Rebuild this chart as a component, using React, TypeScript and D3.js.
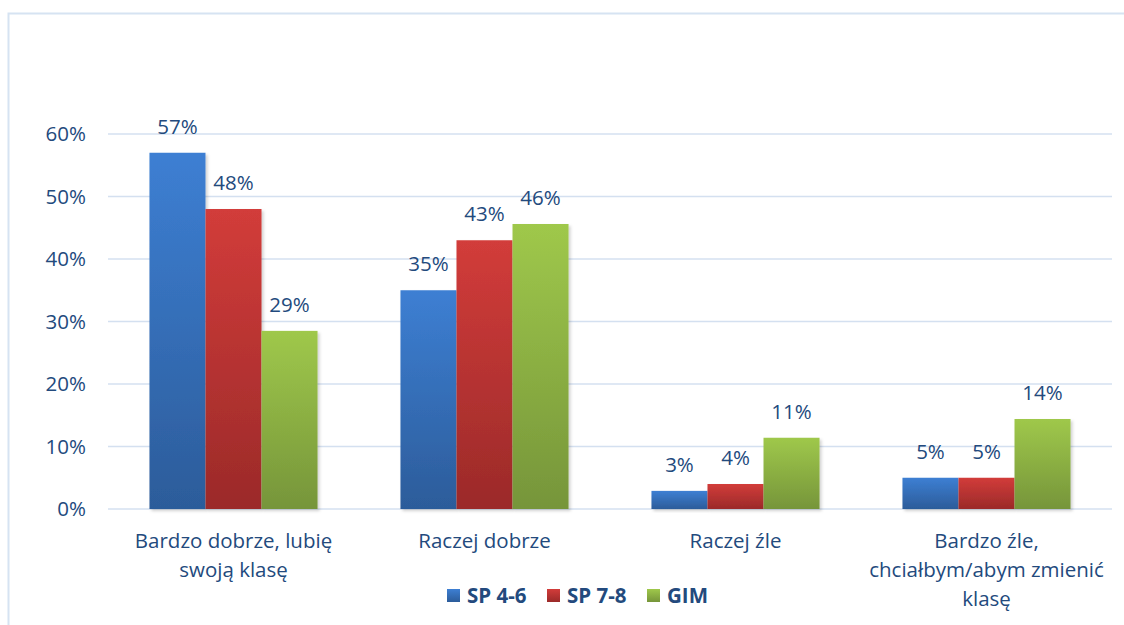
import React from "react";
import * as d3 from "d3";

const categories = [
  ["Bardzo dobrze, lubię", "swoją klasę"],
  ["Raczej dobrze"],
  ["Raczej źle"],
  ["Bardzo źle,", "chciałbym/abym zmienić", "klasę"],
];
const seriesNames = ["SP 4-6", "SP 7-8", "GIM"];
const sp46 = [57, 35, 2.9, 5];
const sp78 = [48, 43, 4, 5];
const gim = [28.5, 45.6, 11.4, 14.4];
const yTicks = [0, 10, 20, 30, 40, 50, 60];

const colors = [
  { top: "#3d7fd3", bottom: "#2c5c9a" },
  { top: "#d23c3a", bottom: "#9b2a29" },
  { top: "#9fc84b", bottom: "#76953a" },
];
const textColor = "#234a7d";
const font = "'Open Sans', sans-serif";

export default function App() {
  const W = 1124, H = 625;
  const left = 108, right = 1112, top = 134, bottom = 509;
  const series = [sp46, sp78, gim];
  const x0 = d3.scaleBand<number>().domain(d3.range(categories.length)).range([left, right]).paddingInner(0).paddingOuter(0);
  const x1 = d3.scaleBand<number>().domain([0, 1, 2]).range([0, x0.bandwidth()]).paddingOuter(0.74).paddingInner(0);
  const y = d3.scaleLinear().domain([0, 60]).range([bottom, top]);
  const fmt = (v: number) => Math.round(v) + "%";

  const legendX = [447, 547, 647];
  const fs = 20.5;

  return (
    <svg width={W} height={H} style={{ position: "absolute", left: 0, top: 0, fontFamily: font }}>
      <defs>
        {colors.map((c, i) => (
          <linearGradient key={i} id={"g" + i} x1="0" y1="0" x2="0" y2="1">
            <stop offset="0%" stopColor={c.top} />
            <stop offset="100%" stopColor={c.bottom} />
          </linearGradient>
        ))}
        <filter id="sh" x="-10%" y="-10%" width="130%" height="130%">
          <feDropShadow dx="2" dy="2" stdDeviation="1.5" floodColor="#000" floodOpacity="0.18" />
        </filter>
      </defs>
      <rect x={0} y={0} width={W} height={H} fill="#fff" />
      <rect x={8.5} y={13.5} width={W + 10} height={H + 10} fill="none" stroke="#d6e3f2" strokeWidth={2} />
      {yTicks.map((t) => (
        <g key={t}>
          <line x1={left} x2={right} y1={y(t)} y2={y(t)} stroke="#d4e0f0" strokeWidth={1.3} />
          <text x={86} y={y(t)} dy="0.36em" textAnchor="end" fontSize={fs} fill={textColor}>{t}%</text>
        </g>
      ))}
      {categories.map((cat, ci) => (
        <g key={ci}>
          {series.map((s, si) => {
            const bx = (x0(ci) as number) + (x1(si) as number);
            const bw = x1.bandwidth();
            return (
              <g key={si}>
                <rect x={bx} y={y(s[ci])} width={bw} height={bottom - y(s[ci])} fill={`url(#g${si})`} filter="url(#sh)" />
                <text x={bx + bw / 2} y={y(s[ci]) - 19} textAnchor="middle" fontSize={fs} fill={textColor}>{fmt(s[ci])}</text>
              </g>
            );
          })}
          {cat.map((line, li) => (
            <text key={li} x={(x0(ci) as number) + x0.bandwidth() / 2} y={548 + li * 29} textAnchor="middle" fontSize={fs} fill={textColor}>{line}</text>
          ))}
        </g>
      ))}
      {seriesNames.map((n, i) => (
        <g key={n}>
          <rect x={legendX[i]} y={589} width={13} height={13} fill={`url(#g${i})`} />
          <text x={legendX[i] + 20} y={603} fontSize={fs} fontWeight="bold" fill={textColor}>{n}</text>
        </g>
      ))}
    </svg>
  );
}
